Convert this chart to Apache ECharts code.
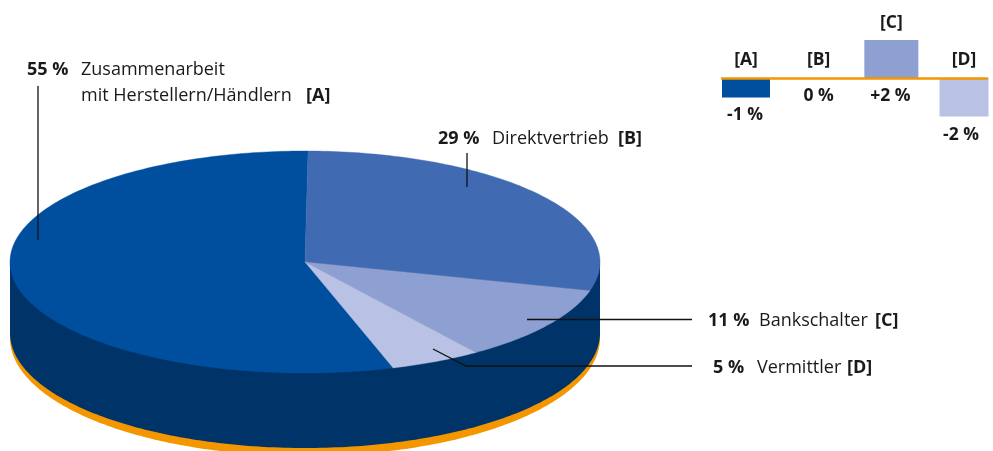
<!DOCTYPE html>
<html><head><meta charset="utf-8">
<script src="https://cdn.jsdelivr.net/npm/echarts@6/dist/echarts.min.js"></script>
<style>html,body{margin:0;padding:0;background:#fff}#c{width:993px;height:451px}</style>
</head><body><div id="c"></div>
<script>
// Data
const codes = ['[A]','[B]','[C]','[D]'];
const channelNames = [['Zusammenarbeit','mit Herstellern/Händlern'],['Direktvertrieb'],['Bankschalter'],['Vermittler']];
const shares = [55,29,11,5];
const changes = [-1,0,2,-2];
const changeLabels = ['-1 %','0 %','+2 %','-2 %'];
const barSlots = [0,1,2,3];

// Presentation
const sliceColors = ['#004f9f','#406ab1','#8e9fd1','#b9c2e4'];
const barWidths = [48,0,54,49];
const valueLabelDx = [-1,0,-1,-3];
const WALL='#003468', ORANGE='#f39600', INK='#1a1a1a';
const FONT='"Open Sans"';
const cx=305, cy=262, rx=295, ry=111, START=162.6;
const total = shares.reduce((a,b)=>a+b,0);

function pt(deg,ox,oy,a,b){const t=deg*Math.PI/180;return [ox+a*Math.sin(t),oy-b*Math.cos(t)];}
function arc(from,to,ox,oy,a,b){const out=[],n=Math.max(2,Math.ceil(Math.abs(to-from)));for(let i=0;i<=n;i++)out.push(pt(from+(to-from)*i/n,ox,oy,a,b));return out;}
function basePts(bc,bry){return [[cx-rx,cy],...arc(270,90,cx,bc,rx,bry),[cx+rx,cy]];}

function renderSlice(params,api){
  const i=params.dataIndex; let before=0; for(let k=0;k<i;k++)before+=shares[k];
  const a0=START+before/total*360, a1=a0+api.value(0)/total*360;
  const children=[];
  if(i===0){
    children.push({type:'polygon',shape:{points:basePts(338,118)},style:{fill:ORANGE}});
    children.push({type:'polygon',shape:{points:basePts(333,115)},style:{fill:WALL}});
  }
  children.push({type:'polygon',shape:{points:[[cx,cy],...arc(a0,a1,cx,cy,rx,ry)]},style:{fill:sliceColors[i],stroke:sliceColors[i],lineWidth:0.4}});
  return {type:'group',children};
}
function renderBar(params,api){
  const i=params.dataIndex, v=api.value(1);
  const p=api.coord([api.value(0),v]), z=api.coord([api.value(0),0]);
  const w=barWidths[i], top=Math.min(p[1],z[1]), bot=Math.max(p[1],z[1]);
  const baseStyle={fontFamily:FONT,fontSize:17.5,fontWeight:700,fill:INK,align:'center',verticalAlign:'middle'};
  const children=[];
  if(v!==0)children.push({type:'rect',shape:{x:p[0]-w/2,y:top,width:w,height:bot-top},style:{fill:sliceColors[i]}});
  children.push({type:'text',style:Object.assign({},baseStyle,{x:p[0],y:top-(v>0?17:18),text:codes[i]})});
  children.push({type:'text',style:Object.assign({},baseStyle,{x:p[0]+valueLabelDx[i],y:v<0?bot+18:z[1]+18,text:changeLabels[i]})});
  return {type:'group',children};
}
function line(points){return {type:'polyline',z:10,shape:{points},style:{stroke:'#111',lineWidth:1.3,fill:null}};}
function txt(x,y,text,bold){return {type:'text',z:10,x,y,style:{text,fontFamily:FONT,fontSize:18,fontWeight:bold?700:400,fill:INK,verticalAlign:'middle'}};}
const t=s=>s+' %';

const option={
  animation:false,
  backgroundColor:'#fff',
  grid:{left:722,top:40,width:265,height:76.6},
  xAxis:{type:'value',min:-0.33,max:3.316,show:true,z:5,splitLine:{show:false},axisTick:{show:false},axisLabel:{show:false},
    axisLine:{show:true,onZero:true,lineStyle:{color:ORANGE,width:2.5}}},
  yAxis:{type:'value',min:-2,max:2,interval:1,show:false},
  series:[
    {type:'custom',coordinateSystem:'none',renderItem:renderSlice,data:shares.map(v=>[v]),silent:true,z:1},
    {type:'custom',renderItem:renderBar,data:barSlots.map((s,i)=>[s,changes[i]]),encode:{x:0,y:1},silent:true,z:1,clip:false}
  ],
  graphic:{elements:[
    line([[38,86],[38,240]]),
    line([[467,153],[467,187]]),
    line([[527,319.5],[692,319.5]]),
    line([[433,349],[466,366],[692,366]]),
    txt(27,70,t(shares[0]),true),txt(81,70,channelNames[0][0]),txt(81,96,channelNames[0][1]),txt(306,96,codes[0],true),
    txt(438,139,t(shares[1]),true),txt(492,139,channelNames[1][0]),txt(618,139,codes[1],true),
    txt(708,321,t(shares[2]),true),txt(759,321,channelNames[2][0]),txt(875,321,codes[2],true),
    txt(713,368,t(shares[3]),true),txt(757,368,channelNames[3][0]),txt(847,368,codes[3],true)
  ]}
};
echarts.init(document.getElementById('c'),null,{renderer:'canvas'}).setOption(option);
</script></body></html>
